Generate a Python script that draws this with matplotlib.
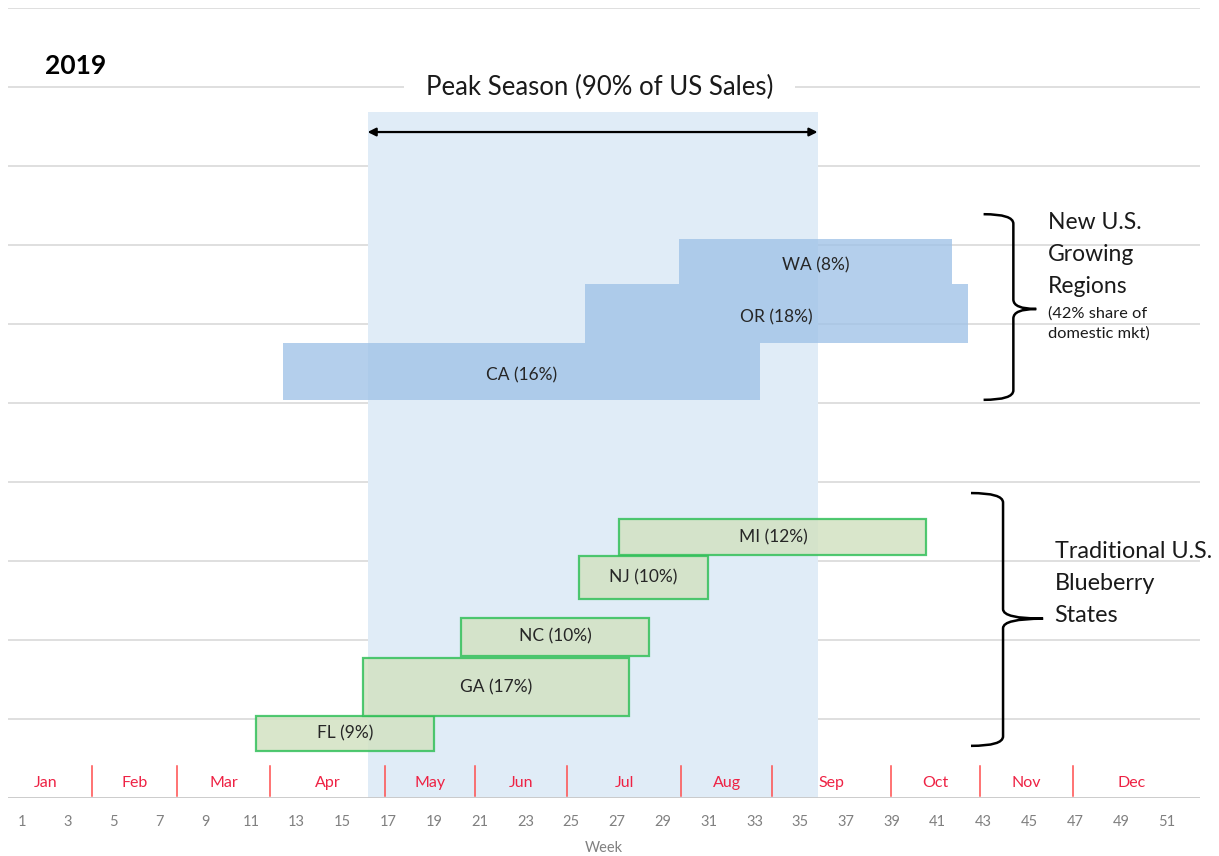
import numpy as np
import matplotlib.pyplot as plt
from matplotlib.path import Path
from matplotlib.patches import PathPatch

plt.rcParams['font.family'] = ['Lato', 'DejaVu Sans']

# Harvest windows (week of year) for each state
new_states = ['CA (16%)', 'OR (18%)', 'WA (8%)']
new_start = [12.4, 25.6, 29.7]
new_end = [33.25, 42.3, 41.6]
new_low = [5.04, 5.76, 6.51]
new_high = [5.76, 6.51, 7.08]

trad_states = ['FL (9%)', 'GA (17%)', 'NC (10%)', 'NJ (10%)', 'MI (12%)']
trad_start = [11.25, 15.9, 20.2, 25.35, 27.1]
trad_end = [19.0, 27.5, 28.4, 30.95, 40.5]
trad_low = [0.6, 1.04, 1.8, 2.52, 3.08]
trad_high = [1.04, 1.77, 2.28, 3.06, 3.53]

peak_start = 16.1
peak_end = 35.75

months = ['Jan', 'Feb', 'Mar', 'Apr', 'May', 'Jun', 'Jul', 'Aug', 'Sep', 'Oct', 'Nov', 'Dec']
month_edges = [0.0, 4.08, 7.8, 11.85, 16.87, 20.8, 24.82, 29.8, 33.76, 38.96, 42.85, 46.9, 52.0]

week_ticks = list(range(1, 52, 2))

fig = plt.figure(figsize=(12.19, 8.56), dpi=100)
ax = fig.add_axes([8 / 1219, 58 / 856, 1192 / 1219, 790 / 856])
ax.set_xlim(0.4, 52.45)
ax.set_ylim(0, 10)

# gridlines
for g in range(1, 11):
    ax.axhline(g, color='#d9d9d9', lw=1.2, zorder=0.1)
ax.axhline(0, color='#c8c8c8', lw=1.3, zorder=1)

# peak season band (drawn over the label's white box)
ax.axvspan(peak_start, peak_end, ymin=0, ymax=0.868, color='#e0ecf7', zorder=0.5, lw=0)
ax.annotate('', xy=(peak_start, 8.43), xytext=(peak_end, 8.43),
            arrowprops=dict(arrowstyle='<|-|>', color='black', lw=1.6,
                            mutation_scale=12, shrinkA=0, shrinkB=0), zorder=5)
ax.text((peak_start + peak_end) / 2 + 0.3, 8.99, 'Peak Season (90% of US Sales)',
        ha='center', va='center', fontsize=18.5, color='#1a1a1a', zorder=0.3,
        bbox=dict(boxstyle='square,pad=0.85', fc='white', ec='none'))

# new regions
for name, s, e, lo, hi in zip(new_states, new_start, new_end, new_low, new_high):
    ax.bar(s, hi - lo, width=e - s, bottom=lo, align='edge',
           color='#9fc2e7', alpha=0.78, lw=0, zorder=2)
    ax.text((s + e) / 2, (lo + hi) / 2 - 0.05, name, ha='center', va='center',
            fontsize=12.5, color='#262626', zorder=3)

# traditional states
for name, s, e, lo, hi in zip(trad_states, trad_start, trad_end, trad_low, trad_high):
    ax.bar(s, hi - lo, width=e - s, bottom=lo, align='edge',
           color='#d3e2c2', alpha=0.85, edgecolor='#33c05a', lw=1.6, zorder=2)
    ax.text((s + e) / 2, (lo + hi) / 2, name, ha='center', va='center',
            fontsize=12.5, color='#262626', zorder=3)


def brace(x0, xv, xt, ytop, ybot, ymid, rx, ry):
    verts = [(x0, ytop), (xv, ytop), (xv, ytop - ry),
             (xv, ymid + ry), (xv, ymid), (xt, ymid),
             (xv, ymid), (xv, ymid - ry),
             (xv, ybot + ry), (xv, ybot), (x0, ybot)]
    codes = [Path.MOVETO, Path.CURVE3, Path.CURVE3,
             Path.LINETO, Path.CURVE3, Path.CURVE3,
             Path.CURVE3, Path.CURVE3,
             Path.LINETO, Path.CURVE3, Path.CURVE3]
    ax.add_patch(PathPatch(Path(verts, codes), fc='none', ec='black', lw=1.8,
                           zorder=5, clip_on=False))


brace(43.0, 44.3, 45.3, 7.39, 5.04, 6.19, 1, 0.12)
brace(42.45, 43.85, 45.6, 3.86, 0.66, 2.27, 1, 0.12)

ax.text(45.8, 6.88, 'New U.S.\nGrowing\nRegions', ha='left', va='center',
        fontsize=16.5, color='#1a1a1a', linespacing=1.65)
ax.text(45.8, 6.01, '(42% share of\ndomestic mkt)', ha='left', va='center',
        fontsize=11.8, color='#1a1a1a', linespacing=1.5)
ax.text(46.1, 2.72, 'Traditional U.S.\nBlueberry\nStates', ha='left', va='center',
        fontsize=16.8, color='#1a1a1a', linespacing=1.65)

# month strip
for edge in month_edges[1:-1]:
    ax.plot([edge, edge], [0.02, 0.4], color='#ff4d4d', lw=1.1, zorder=3)
for m, a, b in zip(months, month_edges[:-1], month_edges[1:]):
    ax.text((a + b) / 2, 0.19, m, ha='center', va='center', fontsize=11.5,
            color='#ee2244', zorder=3)

ax.text(2.0, 9.27, '2019', ha='left', va='center', fontsize=19,
        fontweight='bold', color='black')

ax.set_xticks(week_ticks)
ax.set_xticklabels([str(w) for w in week_ticks], fontsize=10.5, color='#808080')
ax.tick_params(axis='x', length=0, pad=12)
ax.set_yticks([])
ax.set_xlabel('Week', fontsize=10.5, color='#808080', labelpad=9)
for sp in ax.spines.values():
    sp.set_visible(False)

fig.savefig('out.png', dpi=100)
